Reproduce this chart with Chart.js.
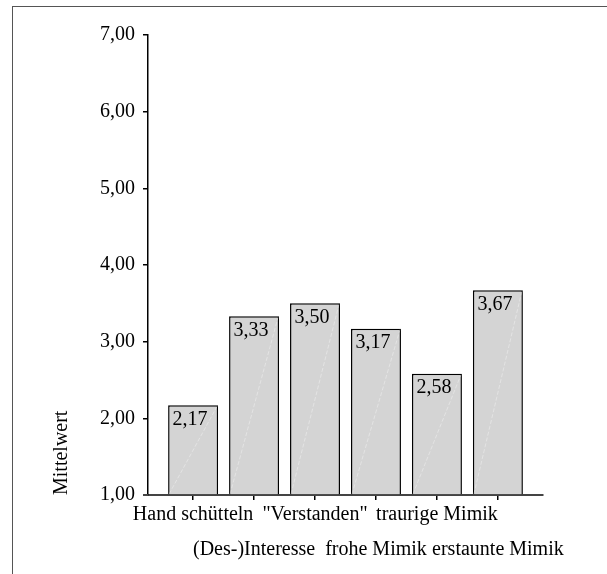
<!DOCTYPE html>
<html>
<head>
<meta charset="utf-8">
<script src="https://cdn.jsdelivr.net/npm/chart.js@4.4.1/dist/chart.umd.min.js"></script>
<style>
  html, body { margin: 0; padding: 0; background: #fff; overflow: hidden; }
  #wrap { position: relative; width: 607px; height: 574px; }
  #frame {
    position: absolute; left: 12px; top: 6px; right: 0; bottom: 0;
    border-left: 1.5px solid #555; border-top: 1.5px solid #555;
    pointer-events: none;
  }
</style>
</head>
<body>
<div id="wrap">
  <canvas id="chart" width="607" height="574"></canvas>
  <div id="frame"></div>
</div>
<script>
const categories = [
  "Hand schütteln",
  "(Des-)Interesse",
  "\"Verstanden\"",
  "frohe Mimik",
  "traurige Mimik",
  "erstaunte Mimik",
];
const means = [2.17, 3.33, 3.5, 3.17, 2.58, 3.67];
const yTicks = [1, 2, 3, 4, 5, 6, 7];

const serif = "'Liberation Serif', 'Times New Roman', serif";
const fmt = (v) => v.toFixed(2).replace(".", ",");

// value label in the top of each bar, plus the faint diagonal sheen
const barLabels = {
  id: "barLabels",
  afterDatasetsDraw(chart) {
    const { ctx } = chart;
    const meta = chart.getDatasetMeta(0);
    const base = chart.scales.y.getPixelForValue(1);
    ctx.save();
    meta.data.forEach((bar, i) => {
      const half = bar.width / 2;
      ctx.strokeStyle = "rgba(255,255,255,0.35)";
      ctx.lineWidth = 1;
      ctx.setLineDash([4, 2]);
      ctx.beginPath();
      ctx.moveTo(bar.x - half + 1, base - 1);
      ctx.lineTo(bar.x + half - 1, bar.y + 1);
      ctx.stroke();
      ctx.setLineDash([]);
      ctx.fillStyle = "#000";
      ctx.font = "20px " + serif;
      ctx.textAlign = "center";
      ctx.textBaseline = "top";
      ctx.fillText(fmt(means[i]), bar.x - 3, bar.y + 4);
    });
    // x axis line runs on past the y axis to the end of its tick marks
    const y0 = chart.scales.x.top;
    ctx.strokeStyle = "#444";
    ctx.lineWidth = 2;
    ctx.beginPath();
    ctx.moveTo(chart.chartArea.left - 5, y0);
    ctx.lineTo(chart.chartArea.left, y0);
    ctx.stroke();
    ctx.restore();
  },
};

new Chart(document.getElementById("chart"), {
  type: "bar",
  data: {
    datasets: [
      {
        data: means.map((v, i) => ({ x: i, y: v })),
        backgroundColor: "#d4d4d4",
        borderColor: "#000",
        borderWidth: 1.5,
        borderSkipped: "bottom",
        barPercentage: 0.82,
        categoryPercentage: 1,
        base: 1,
      },
    ],
  },
  options: {
    responsive: false,
    animation: false,
    layout: { padding: { left: 0, top: 35, right: 64, bottom: 0 } },
    plugins: {
      legend: { display: false },
      tooltip: { enabled: false },
    },
    scales: {
      x: {
        type: "linear",
        offset: false,
        min: -0.74,
        max: categories.length - 1 + 0.74,
        afterBuildTicks: (axis) => {
          axis.ticks = categories.map((c, i) => ({ value: i }));
        },
        afterFit: (scale) => {
          scale.height = 79;
        },
        border: { display: true, color: "#444", width: 2 },
        grid: {
          offset: false,
          drawOnChartArea: false,
          drawTicks: true,
          tickLength: 5,
          color: "#000",
          lineWidth: 1.5,
        },
        ticks: {
          autoSkip: false,
          maxRotation: 0,
          minRotation: 0,
          padding: -3,
          color: "#000",
          font: { family: serif, size: 20, lineHeight: 1.75 },
          callback: (v) => (v % 2 === 0 ? categories[v] : ["", categories[v]]),
        },
      },
      y: {
        min: 1,
        max: 7,
        afterBuildTicks: (axis) => {
          axis.ticks = yTicks.map((v) => ({ value: v }));
        },
        afterFit: (scale) => {
          scale.width = 148;
        },
        border: { display: true, color: "#000", width: 1.5 },
        grid: {
          drawOnChartArea: false,
          drawTicks: true,
          tickLength: 5,
          color: "#000",
          lineWidth: 1.5,
        },
        ticks: {
          padding: 8,
          color: "#000",
          font: { family: serif, size: 20 },
          callback: (v) => fmt(v),
        },
        title: {
          display: true,
          text: "Mittelwert",
          align: "start",
          color: "#000",
          font: { family: serif, size: 20 },
          padding: { top: 50 },
        },
      },
    },
  },
  plugins: [barLabels],
});
</script>
</body>
</html>
